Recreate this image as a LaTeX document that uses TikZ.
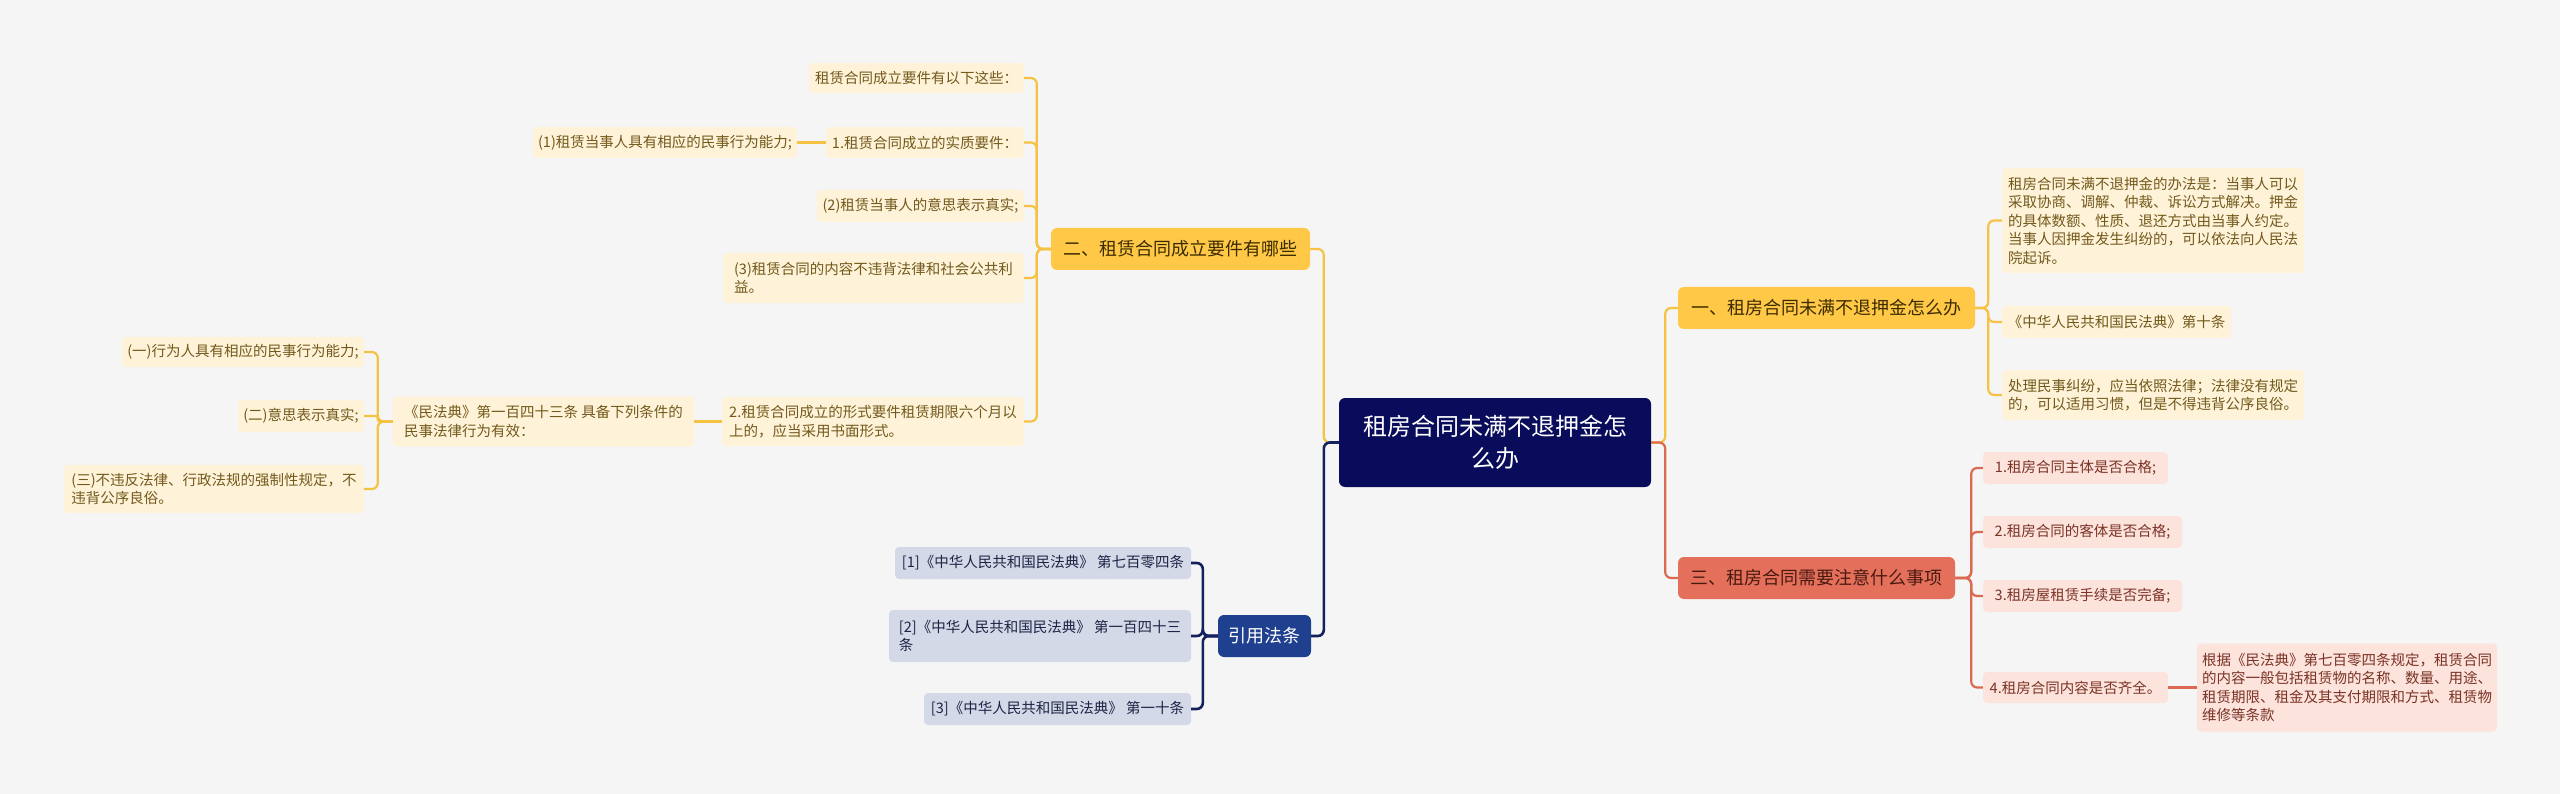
\documentclass[tikz,border=0pt]{standalone}
\usepackage{fontspec}
\setmainfont{Noto Sans CJK SC}
\usetikzlibrary{calc}
\definecolor{bg}{HTML}{F5F5F5}
\definecolor{cfill}{HTML}{080C5A}
\definecolor{ymainf}{HTML}{FFC847}
\definecolor{ymaint}{HTML}{3D2C00}
\definecolor{ylightf}{HTML}{FEF2D9}
\definecolor{ylightt}{HTML}{735A1B}
\definecolor{yline}{HTML}{F5C244}
\definecolor{rmainf}{HTML}{E4705B}
\definecolor{rmaint}{HTML}{4A1A10}
\definecolor{rlightf}{HTML}{FCE3DC}
\definecolor{rlightt}{HTML}{7B3325}
\definecolor{rline}{HTML}{DB6A50}
\definecolor{bmainf}{HTML}{1F3F8F}
\definecolor{blightf}{HTML}{D4D9E7}
\definecolor{blightt}{HTML}{1E2346}
\definecolor{bline}{HTML}{14215F}
\tikzset{
  smallfont/.style={font=\fontsize{14.5}{18.5}\selectfont},
  basebox/.style={rounded corners=4pt, inner xsep=5pt, inner ysep=3pt, align=left},
  ysub/.style={basebox, smallfont, fill=ylightf, text=ylightt},
  rsub/.style={basebox, smallfont, fill=rlightf, text=rlightt},
  bsub/.style={basebox, smallfont, fill=blightf, text=blightt},
  mainbox/.style={rounded corners=6pt, inner xsep=6pt, inner ysep=3pt, font=\fontsize{18}{22}\selectfont, minimum height=42pt},
  ymain/.style={mainbox, fill=ymainf, text=ymaint},
  rmain/.style={mainbox, fill=rmainf, text=rmaint},
  bmain/.style={mainbox, fill=bmainf, text=white},
  centerbox/.style={rounded corners=6pt, fill=cfill, text=white, align=center, font=\fontsize{24}{32}\selectfont},
  yl/.style={draw=yline, line width=2.2pt, rounded corners=6pt},
  rl/.style={draw=rline, line width=2.2pt, rounded corners=6pt},
  bl/.style={draw=bline, line width=2.6pt, rounded corners=6pt},
}
\begin{document}
\begin{tikzpicture}[x=1pt,y=-1pt]
\useasboundingbox[fill=bg] (0,0) rectangle (2560,794);

% centre
\node[centerbox, minimum width=312pt, minimum height=89pt] (C) at (1495,442.5) {租房合同未满不退押金怎\\么办};

% main branches
\node[ymain, minimum width=259pt] (N2) at (1180.5,249) {二、租赁合同成立要件有哪些};
\node[ymain, minimum width=297pt] (N1) at (1826.5,308) {一、租房合同未满不退押金怎么办};
\node[rmain, minimum width=277pt] (N3) at (1816.5,578) {三、租房合同需要注意什么事项};
\node[bmain, minimum width=93pt] (NR) at (1264.5,636) {引用法条};

% branch 二
\node[ysub, minimum width=215pt, minimum height=30pt] (a1) at (916.5,78) {租赁合同成立要件有以下这些：};
\node[ysub, minimum width=198pt, minimum height=31pt] (a2) at (925,142.5) {1.租赁合同成立的实质要件：};
\node[ysub, minimum width=264pt, minimum height=31pt] (a2c) at (665,142.5) {(1)租赁当事人具有相应的民事行为能力;};
\node[ysub, minimum width=207pt, minimum height=32pt] (a3) at (920.5,206) {(2)租赁当事人的意思表示真实;};
\node[ysub, minimum width=301pt, minimum height=50pt] (a4) at (873.5,278) {(3)租赁合同的内容不违背法律和社会公共利\\益。};
\node[ysub, minimum width=302pt, minimum height=49pt] (a5) at (873,421.5) {2.租赁合同成立的形式要件租赁期限六个月以\\上的，应当采用书面形式。};
\node[ysub, minimum width=301pt, minimum height=50pt] (a5c) at (543.5,421.5) {《民法典》第一百四十三条 具备下列条件的\\民事法律行为有效：};
\node[ysub, minimum width=242pt, minimum height=30pt] (b1) at (243,352) {(一)行为人具有相应的民事行为能力;};
\node[ysub, minimum width=126pt, minimum height=32pt] (b2) at (301,416) {(二)意思表示真实;};
\node[ysub, minimum width=300pt, minimum height=48pt] (b3) at (214,489) {(三)不违反法律、行政法规的强制性规定，不\\违背公序良俗。};

% branch 一
\node[ysub, minimum width=302pt, minimum height=105pt] (d1) at (2153,220.5) {租房合同未满不退押金的办法是：当事人可以\\采取协商、调解、仲裁、诉讼方式解决。押金\\的具体数额、性质、退还方式由当事人约定。\\当事人因押金发生纠纷的，可以依法向人民法\\院起诉。};
\node[ysub, minimum width=229pt, minimum height=32pt] (d2) at (2116.5,322) {《中华人民共和国民法典》第十条};
\node[ysub, minimum width=302pt, minimum height=50pt] (d3) at (2153,395) {处理民事纠纷，应当依照法律；法律没有规定\\的，可以适用习惯，但是不得违背公序良俗。};

% branch 三
\node[rsub, minimum width=185pt, minimum height=32pt] (e1) at (2075.5,468) {1.租房合同主体是否合格;};
\node[rsub, minimum width=199pt, minimum height=32pt] (e2) at (2082.5,532) {2.租房合同的客体是否合格;};
\node[rsub, minimum width=199pt, minimum height=32pt] (e3) at (2082.5,596) {3.租房屋租赁手续是否完备;};
\node[rsub, minimum width=185pt, minimum height=31pt] (e4) at (2075.5,687.5) {4.租房合同内容是否齐全。};
\node[rsub, minimum width=300pt, minimum height=88pt] (e4c) at (2347,687.5) {根据《民法典》第七百零四条规定，租赁合同\\的内容一般包括租赁物的名称、数量、用途、\\租赁期限、租金及其支付期限和方式、租赁物\\维修等条款};

% references
\node[bsub, minimum width=296pt, minimum height=32pt] (r1) at (1043,563) {[1]《中华人民共和国民法典》 第七百零四条};
\node[bsub, minimum width=302pt, minimum height=52pt] (r2) at (1040,636) {[2]《中华人民共和国民法典》 第一百四十三\\条};
\node[bsub, minimum width=267pt, minimum height=32pt] (r3) at (1057.5,709) {[3]《中华人民共和国民法典》 第一十条};

% connectors from centre
\draw[yl] (C.west) -- ++(-15,0) |- (N2.east);
\draw[bl] (C.west) -- ++(-15,0) |- (NR.east);
\draw[yl] (C.east) -- ++(14,0) |- (N1.west);
\draw[rl] (C.east) -- ++(14,0) |- (N3.west);

% branch 二 connectors
\foreach \k in {a1,a2,a3,a4,a5}{
  \draw[yl] (N2.west) -- ++(-14,0) |- (\k.east);
}
\draw[yl] (a2.west) -- (a2c.east);
\draw[yl] (a5.west) -- (a5c.east);
\draw[yl] (a5c.west) -- ++(-15,0) |- (b1.east);
\draw[yl, rounded corners=2pt] (a5c.west) -- ++(-15,0) |- (b2.east);
\draw[yl] (a5c.west) -- ++(-15,0) |- (b3.east);

% branch 一 connectors
\foreach \k in {d1,d2,d3}{
  \draw[yl] (N1.east) -- ++(13,0) |- (\k.west);
}

% branch 三 connectors
\foreach \k in {e1,e2,e3,e4}{
  \draw[rl] (N3.east) -- ++(16,0) |- (\k.west);
}
\draw[rl] (e4.east) -- (e4c.west);

% references connectors
\foreach \k in {r1,r2,r3}{
  \draw[bl] (NR.west) -- ++(-15,0) |- (\k.east);
}
\end{tikzpicture}
\end{document}
